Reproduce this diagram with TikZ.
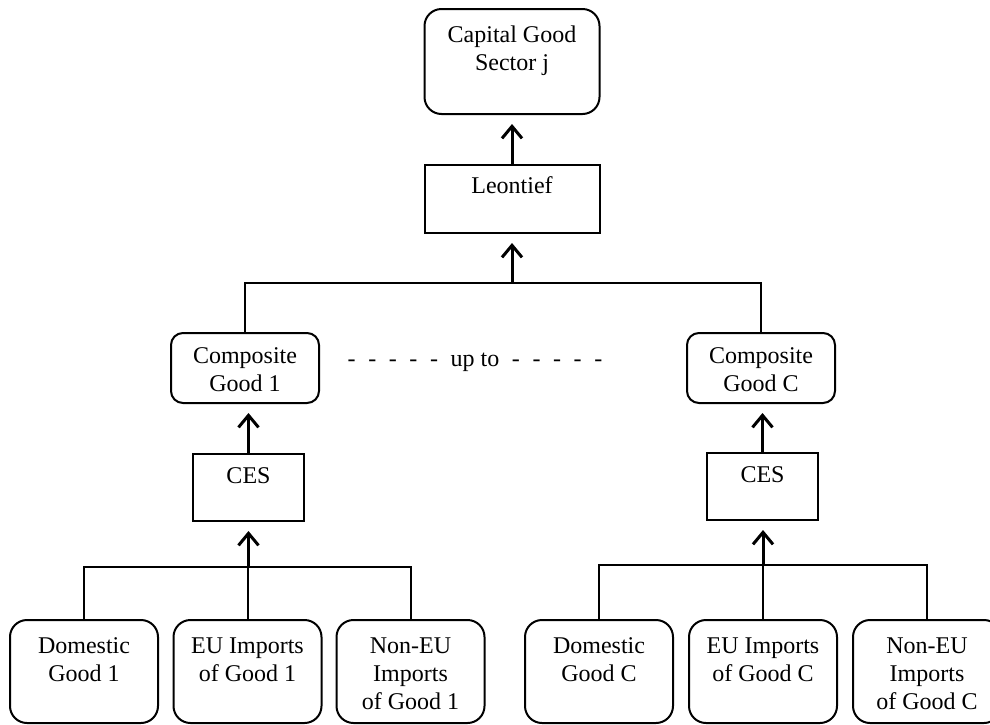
\documentclass[tikz,border=0pt]{standalone}
\usepackage{fontspec}
\setmainfont{Liberation Serif}
\usetikzlibrary{arrows.meta}

% text of a box, set from its top edge
\newcommand{\cellbox}[4]{\parbox[t][#1][t]{#2}{\centering\rule{0pt}{#3}#4}}

\tikzset{
  roundbox/.style={draw,line width=1pt,rounded corners=#1,inner sep=0pt,anchor=north},
  roundbox/.default=8.5pt,
  plainbox/.style={draw,line width=1pt,inner sep=0pt,anchor=north},
  link/.style={line width=1pt},
  up/.style={line width=1.5pt,-{Straight Barb[length=6pt,width=10pt]},shorten >=4.5pt}
}

\begin{document}
\begin{tikzpicture}[x=0.5pt,y=-0.5pt,every node/.style={font=\fontsize{12}{14}\selectfont}]
  \useasboundingbox (0,0) rectangle (990,724);

  % Capital good and Leontief nest
  \node[roundbox] (cap) at (512,8) {\cellbox{52.5pt}{87.5pt}{16.5pt}{Capital Good\\Sector j}};
  \node[plainbox] (leon) at (512,164) {\cellbox{34pt}{87.5pt}{14pt}{Leontief}};

  % Composite goods
  \node[roundbox=6pt] (comp1) at (245,332) {\cellbox{35pt}{74pt}{15pt}{Composite\\Good 1}};
  \node[roundbox=6pt] (compC) at (761,332) {\cellbox{35pt}{74pt}{15pt}{Composite\\Good C}};
  \node[anchor=base] (upto) at (475,366) {\spaceskip=6.3pt - - - - - up\hspace{3pt}to - - - - -};

  % CES nests
  \node[plainbox] (ces1) at (248.5,453) {\cellbox{33.5pt}{55.5pt}{14.5pt}{CES}};
  \node[plainbox] (cesC) at (762.5,452) {\cellbox{33.5pt}{55.5pt}{14.5pt}{CES}};

  % Sources of good 1
  \node[roundbox] (dom1) at (84,619) {\cellbox{51.5pt}{74pt}{16.5pt}{Domestic\\Good 1}};
  \node[roundbox] (eu1) at (247.5,619) {\cellbox{51.5pt}{74pt}{16.5pt}{EU Imports\\of Good 1}};
  \node[roundbox] (non1) at (410.5,619) {\cellbox{51.5pt}{74pt}{16.5pt}{Non-EU\\Imports\\of Good 1}};

  % Sources of good C
  \node[roundbox] (domC) at (599,619) {\cellbox{51.5pt}{74pt}{16.5pt}{Domestic\\Good C}};
  \node[roundbox] (euC) at (763,619) {\cellbox{51.5pt}{74pt}{16.5pt}{EU Imports\\of Good C}};
  \node[roundbox] (nonC) at (927,619) {\cellbox{51.5pt}{74pt}{16.5pt}{Non-EU\\Imports\\of Good C}};

  % Upper tree
  \coordinate (forktop) at (512,283);
  \draw[link] (comp1.north) |- (forktop) -| (compC.north);
  \draw[up] (forktop) -- (leon.south);
  \draw[up] (leon.north) -- (cap.south);

  % Lower trees
  \coordinate (fork1) at (248.5,567);
  \draw[link] (dom1.north) |- (fork1) -| (non1.north);
  \draw[link] (eu1.north) -- (eu1.north |- fork1);
  \draw[up] (fork1) -- (ces1.south);
  \draw[up] (ces1.north) -- (ces1.north |- comp1.south);

  \coordinate (forkC) at (763,565);
  \draw[link] (domC.north) |- (forkC) -| (nonC.north);
  \draw[link] (euC.north) -- (euC.north |- forkC);
  \draw[up] (forkC) -- (forkC |- cesC.south);
  \draw[up] (cesC.north) -- (cesC.north |- compC.south);
\end{tikzpicture}
\end{document}
